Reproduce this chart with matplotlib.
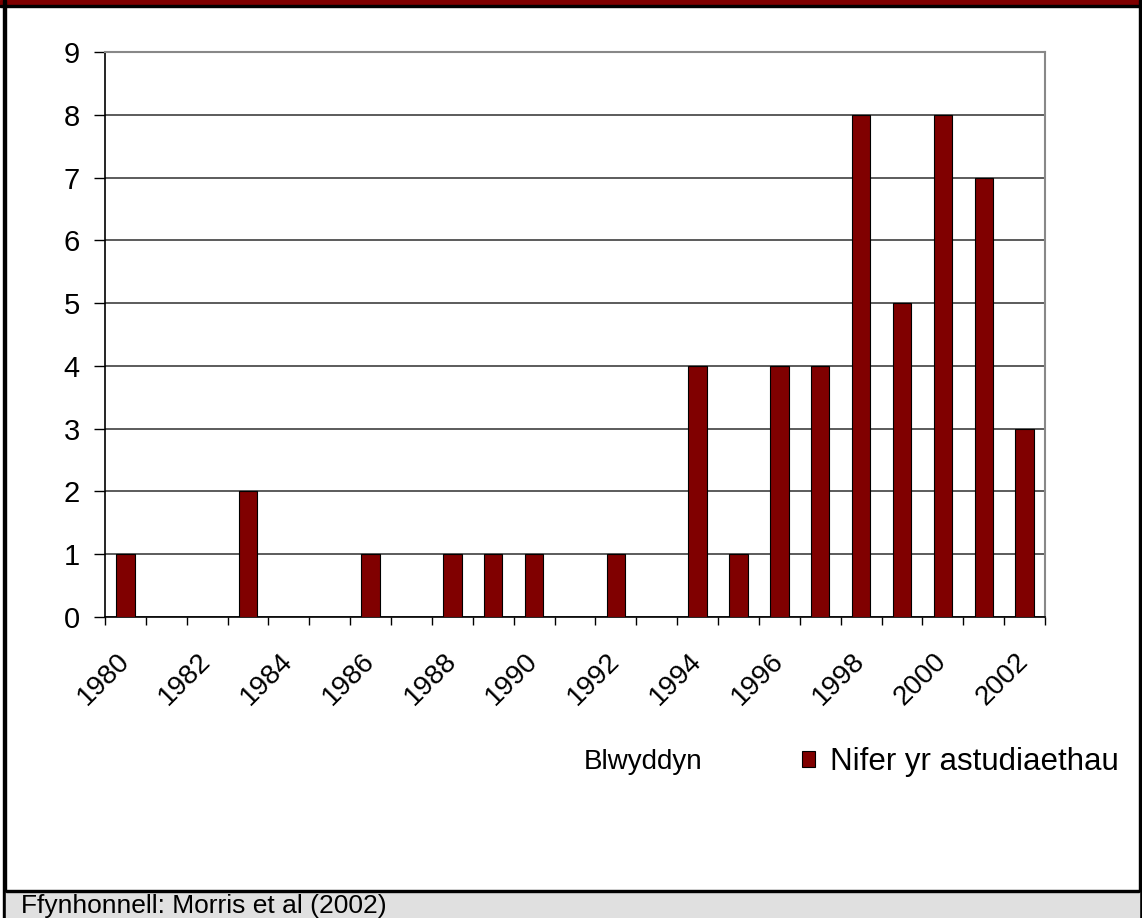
import matplotlib.pyplot as plt
from matplotlib.patches import Rectangle

years = list(range(1980, 2003))
counts = [1, 0, 0, 2, 0, 0, 1, 0, 1, 1, 1, 0, 1, 0, 4, 1, 4, 4, 8, 5, 8, 7, 3]
tick_years = list(range(1980, 2003, 2))

W, H = 1142, 918
plt.rcParams['font.family'] = ['Liberation Sans', 'DejaVu Sans']
FS = 20

fig = plt.figure(figsize=(W / 100, H / 100), dpi=100)

def px_rect(x0, y0, x1, y1, color):
    # rectangle in pixel coords (top-left origin)
    fig.patches.append(Rectangle((x0 / W, 1 - y1 / H), (x1 - x0) / W, (y1 - y0) / H,
                                 transform=fig.transFigure, color=color, zorder=0))

# frame around the whole picture
px_rect(0, 0, W, 5, '#7f0000')
px_rect(0, 5, W, 7, 'black')
px_rect(3, 0, 6, H, 'black')
px_rect(W - 3, 0, W, H, 'black')
px_rect(6, 892, W - 3, H, '#e0e0e0')
px_rect(6, 890, W - 3, 892, 'black')

ax = fig.add_axes([105 / W, 1 - 617 / H, 940 / W, 565 / H])
pos = [i + 0.5 for i in range(len(years))]
ax.bar(pos, counts, width=0.45, color='#800000', edgecolor='black', linewidth=0.8,
       zorder=3, label='Nifer yr astudiaethau')

ax.set_xlim(0, len(years))
ax.set_ylim(0, 9)
ax.set_yticks(range(10))
ax.grid(axis='y', color='#404040', linewidth=1.2, zorder=1)
ax.tick_params(axis='y', labelsize=21, length=8, width=1, direction='out', pad=10)

ax.set_xticks([years.index(y) + 0.5 for y in tick_years])
ax.set_xticklabels([str(y) for y in tick_years], rotation=45, ha='right', va='center',
                   rotation_mode='anchor', fontsize=FS)
ax.tick_params(axis='x', which='major', length=0, pad=29)
ax.set_xticks(range(len(years) + 1), minor=True)
ax.tick_params(axis='x', which='minor', length=6, width=1, direction='out')

for s in ['top', 'right']:
    ax.spines[s].set_color('#888888')
    ax.spines[s].set_linewidth(1.5)
for s in ['left', 'bottom']:
    ax.spines[s].set_color('black')
    ax.spines[s].set_linewidth(1.2)

fig.text(643 / W, 1 - 762 / H, 'Blwyddyn', fontsize=FS, ha='center', va='center')
ax.legend(loc='center left', bbox_to_anchor=(802 / W, 1 - 762 / H),
          bbox_transform=fig.transFigure, frameon=False, fontsize=22.5,
          handlelength=0.42, handleheight=0.42, handletextpad=0.48,
          borderaxespad=0, borderpad=0)

fig.text(21 / W, 1 - 913 / H, 'Ffynhonnell: Morris et al (2002)', fontsize=19,
         ha='left', va='baseline')

fig.savefig('out.png', dpi=100)
